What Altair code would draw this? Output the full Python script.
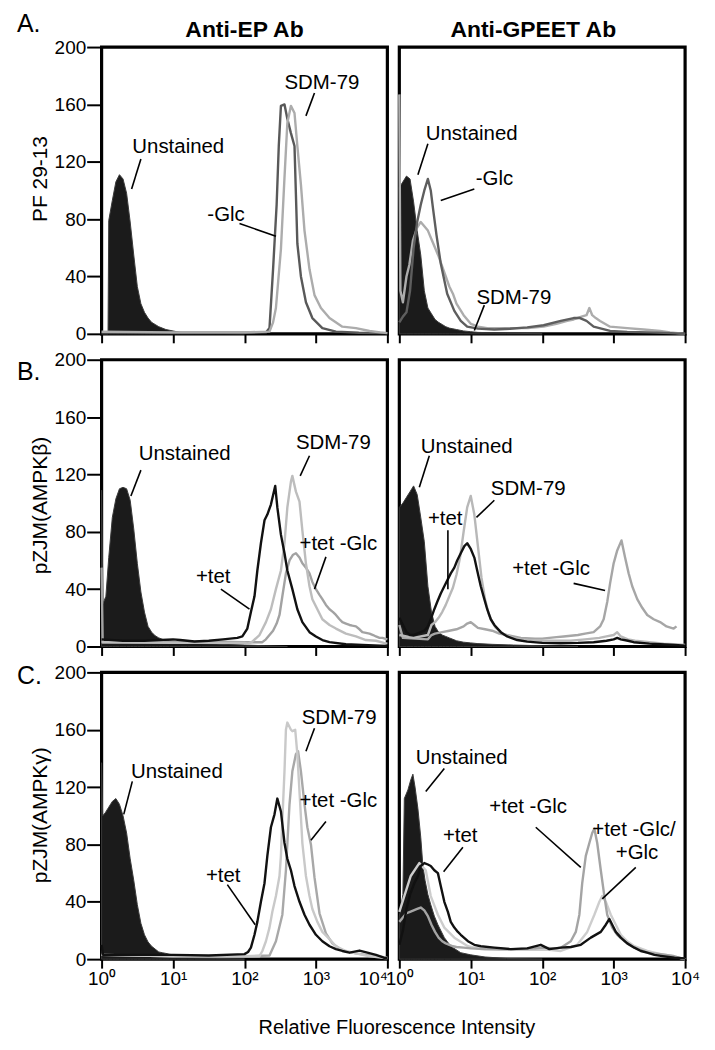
import altair as alt
import pandas as pd

FONT = "Liberation Sans"
PANEL_W = 287
PANEL_H = 288

X_TICKS = [1, 10, 100, 1000, 10000]
Y_TICKS = [0, 40, 80, 120, 160, 200]
COL_HEADERS = ["Anti-EP Ab", "Anti-GPEET Ab"]
ROW_LETTERS = ["A.", "B.", "C."]
ROW_TITLES = ["PF 29-13", "pZJM(AMPK\u03b2)", "pZJM(AMPK\u03b3)"]
X_TITLE = "Relative Fluorescence Intensity"

# Histogram readings: [log10(intensity), cell count]
# ---- Row A, Anti-EP
A_EP_UNST = [[0.0, 0], [0.09, 0], [0.10, 79], [0.15, 93], [0.20, 106], [0.25, 111], [0.30, 108], [0.35, 98],
             [0.40, 78], [0.45, 55], [0.50, 33], [0.55, 21], [0.60, 15], [0.65, 11], [0.70, 8], [0.75, 6.5],
             [0.80, 5], [0.85, 4], [0.90, 3], [0.95, 2.5], [1.00, 2], [1.05, 1.5], [1.10, 1], [1.30, 0.6],
             [1.6, 0.3], [2.0, 0]]
A_EP_GLC = [[0.0, 1], [0.5, 1], [1.0, 0.8], [2.0, 0.8], [2.30, 1], [2.35, 4], [2.40, 45], [2.45, 90],
            [2.48, 131], [2.51, 159], [2.56, 160], [2.60, 150], [2.65, 140], [2.70, 131], [2.72, 97],
            [2.74, 63], [2.79, 40], [2.86, 22], [2.95, 11], [3.09, 4], [3.28, 1.5], [3.6, 0.8], [4.0, 0.5]]
A_EP_SDM = [[0.0, 1.5], [1.0, 1], [2.0, 1], [2.35, 1.5], [2.40, 8], [2.44, 18], [2.51, 59], [2.56, 109],
            [2.60, 147], [2.65, 159], [2.70, 154], [2.74, 131], [2.79, 104], [2.84, 72], [2.91, 45],
            [2.98, 27], [3.07, 18], [3.19, 11], [3.37, 5], [3.56, 4], [3.75, 2], [3.9, 1], [4.0, 0.5]]
# ---- Row A, Anti-GPEET
A_GP_UNST = [[0.0, 102], [0.05, 106], [0.10, 110], [0.15, 108], [0.20, 92], [0.25, 72], [0.30, 55],
             [0.35, 30], [0.40, 18], [0.45, 14], [0.50, 10], [0.55, 8], [0.60, 6.5], [0.65, 5], [0.70, 4],
             [0.75, 3.5], [0.80, 3], [0.90, 2], [1.00, 1.5], [1.10, 1], [1.5, 0.5], [2.0, 0]]
A_GP_GLC = [[0.0, 8], [0.05, 12], [0.10, 15], [0.15, 30], [0.20, 60], [0.25, 78], [0.30, 90], [0.35, 100],
            [0.40, 108], [0.44, 100], [0.47, 88], [0.52, 69], [0.58, 49], [0.67, 28], [0.77, 16],
            [0.86, 9], [0.95, 5], [1.10, 3.6], [1.33, 3], [1.55, 3.5], [1.79, 4.5], [2.02, 6], [2.26, 9],
            [2.44, 11], [2.53, 11], [2.62, 9], [2.72, 5], [2.95, 2], [3.19, 1.4], [3.5, 1], [3.8, 0.5],
            [4.0, 0]]
A_GP_SDM = [[0.0, 167], [0.015, 30], [0.05, 22], [0.10, 40], [0.14, 48], [0.19, 65], [0.25, 74],
            [0.30, 78], [0.35, 75], [0.40, 72], [0.45, 66], [0.50, 60], [0.55, 54], [0.60, 47], [0.65, 40],
            [0.70, 33], [0.75, 28], [0.80, 21], [0.85, 17], [0.90, 13], [0.95, 10], [1.00, 7], [1.05, 6],
            [1.10, 5], [1.23, 4], [1.5, 4], [1.8, 4], [2.02, 5], [2.2, 7], [2.35, 9], [2.44, 10],
            [2.55, 12], [2.62, 13], [2.66, 18], [2.70, 13], [2.75, 11], [2.81, 9], [2.95, 5], [3.19, 4],
            [3.42, 3], [3.65, 2], [3.79, 1], [3.9, 0.5], [4.0, 0]]
# ---- Row B, Anti-EP
B_EP_UNST = [[0.0, 109], [0.02, 30], [0.06, 35], [0.10, 62], [0.15, 90], [0.20, 103], [0.25, 110],
             [0.30, 111], [0.35, 110], [0.40, 102], [0.45, 82], [0.50, 58], [0.55, 38], [0.60, 24],
             [0.65, 14], [0.70, 10], [0.75, 7.5], [0.80, 6], [0.85, 5], [0.90, 4.5], [0.95, 4], [1.00, 3.5],
             [1.1, 3], [1.2, 2.5], [1.4, 2], [1.7, 1.5], [2.0, 1], [2.3, 0.5], [2.6, 0]]
B_EP_TET = [[0.0, 5], [0.3, 4], [0.6, 4], [1.0, 5], [1.1, 4.5], [1.3, 3.5], [1.5, 4], [1.7, 5], [1.8, 5.5],
            [1.9, 6], [1.97, 7], [2.04, 12.5], [2.09, 24], [2.14, 35], [2.18, 53], [2.23, 72], [2.28, 88],
            [2.32, 92], [2.37, 99], [2.43, 112], [2.46, 97], [2.51, 78], [2.56, 65], [2.60, 53],
            [2.67, 40], [2.74, 26], [2.81, 17], [2.91, 10], [3.0, 7], [3.09, 4.5], [3.19, 3], [3.42, 1.6],
            [3.65, 1.1], [3.9, 0.5], [4.0, 0.3]]
B_EP_SDM = [[0.0, 3], [1.0, 2.5], [2.0, 2.5], [2.05, 2], [2.11, 3.4], [2.21, 8], [2.30, 17], [2.37, 26],
            [2.44, 40], [2.51, 53], [2.56, 72], [2.60, 97], [2.65, 115], [2.67, 119], [2.72, 108],
            [2.77, 101], [2.81, 81], [2.86, 58], [2.91, 42], [2.95, 33], [3.02, 26], [3.09, 19],
            [3.19, 15], [3.28, 12.5], [3.42, 9], [3.56, 7], [3.70, 4.5], [3.84, 4], [3.95, 2.5], [4.0, 2]]
B_EP_TETGLC = [[0.0, 55], [0.015, 3], [0.5, 3], [1.0, 3], [1.5, 3.5], [2.0, 3], [2.25, 3], [2.30, 5],
               [2.35, 8], [2.40, 11], [2.45, 16], [2.49, 22], [2.53, 35], [2.58, 51], [2.63, 60],
               [2.68, 64], [2.72, 65], [2.77, 62], [2.81, 58], [2.86, 55], [2.91, 51], [2.95, 45],
               [3.0, 40], [3.05, 36], [3.09, 33], [3.14, 29], [3.19, 26], [3.24, 24], [3.28, 22],
               [3.33, 19], [3.37, 17], [3.42, 16], [3.47, 15], [3.51, 14.5], [3.56, 14], [3.61, 12],
               [3.65, 10], [3.70, 9.5], [3.75, 9], [3.80, 8], [3.84, 7], [3.89, 6], [3.93, 6], [4.0, 5]]
# ---- Row B, Anti-GPEET
B_GP_UNST = [[0.0, 97], [0.05, 100], [0.10, 104], [0.15, 108], [0.20, 112], [0.25, 106], [0.30, 90],
             [0.35, 73], [0.40, 42], [0.45, 24], [0.50, 14], [0.55, 10], [0.60, 8], [0.65, 7], [0.70, 6],
             [0.75, 5], [0.80, 4], [0.85, 3.5], [0.90, 3], [1.0, 2.5], [1.1, 2], [1.3, 1.5], [1.6, 1],
             [2.0, 0.5], [2.5, 0]]
B_GP_TET = [[0.0, 20], [0.05, 15], [0.10, 10], [0.15, 8], [0.20, 8], [0.25, 9], [0.30, 10], [0.35, 11],
            [0.40, 14], [0.44, 19], [0.49, 26], [0.53, 31], [0.58, 37], [0.63, 42], [0.68, 47], [0.72, 51],
            [0.77, 55], [0.81, 60], [0.86, 65], [0.91, 70], [0.95, 72], [1.0, 68], [1.05, 62], [1.09, 53],
            [1.14, 42], [1.19, 33], [1.23, 26], [1.28, 19], [1.33, 15], [1.42, 10], [1.51, 7], [1.65, 4.5],
            [1.79, 3.4], [2.0, 2.5], [2.26, 2.3], [2.5, 2.5], [2.72, 3], [2.9, 4], [3.0, 5], [3.05, 6],
            [3.1, 5], [3.2, 4], [3.28, 3], [3.5, 2], [3.65, 1.6], [3.85, 1], [4.0, 0.5]]
B_GP_SDM = [[0.0, 8], [0.2, 6], [0.40, 8], [0.45, 15], [0.50, 17], [0.55, 20], [0.60, 24], [0.65, 29],
            [0.70, 35], [0.75, 41], [0.80, 50], [0.85, 62], [0.90, 80], [0.95, 97], [1.00, 105],
            [1.05, 92], [1.10, 70], [1.15, 48], [1.20, 33], [1.25, 23], [1.30, 17], [1.35, 13], [1.40, 11],
            [1.45, 9], [1.50, 8], [1.60, 6], [1.7, 5], [1.8, 4.5], [2.0, 4], [2.2, 4], [2.4, 4], [2.6, 5],
            [2.8, 6], [2.9, 7], [3.0, 8], [3.05, 10], [3.1, 7], [3.2, 5], [3.3, 4], [3.5, 3], [3.7, 2],
            [3.9, 1.5], [4.0, 1]]
B_GP_TETGLC = [[0.0, 15], [0.05, 6], [0.4, 5], [0.45, 8], [0.5, 9], [0.6, 10], [0.7, 11], [0.8, 12],
               [0.9, 14], [0.95, 16], [1.0, 17], [1.05, 15], [1.1, 13], [1.2, 12], [1.3, 11], [1.4, 9],
               [1.5, 8], [1.6, 7], [1.7, 6], [1.9, 5.5], [2.0, 5.5], [2.1, 6], [2.2, 6.5], [2.3, 7],
               [2.4, 7.5], [2.5, 8], [2.6, 9], [2.72, 10], [2.81, 14], [2.86, 19], [2.91, 31], [2.95, 44],
               [3.0, 58], [3.05, 67], [3.11, 74], [3.16, 62], [3.21, 51], [3.26, 42], [3.33, 33],
               [3.40, 27], [3.47, 22], [3.56, 19], [3.65, 17], [3.74, 14], [3.84, 12.5], [3.88, 14]]
# ---- Row C, Anti-EP
C_EP_UNST = [[0.0, 137], [0.015, 100], [0.05, 102], [0.10, 106], [0.15, 110], [0.20, 112], [0.25, 108],
             [0.30, 100], [0.35, 88], [0.40, 70], [0.45, 55], [0.50, 38], [0.55, 25], [0.60, 17],
             [0.65, 12], [0.70, 9], [0.75, 7], [0.80, 5], [0.85, 4.5], [0.90, 4], [0.95, 3.4], [1.00, 3],
             [1.05, 2.5], [1.10, 2], [1.2, 1.5], [1.3, 1], [1.6, 0.5], [2.0, 0]]
C_EP_TET = [[0.0, 10], [0.02, 3], [1.0, 3], [1.5, 2.5], [2.0, 3.5], [2.05, 5], [2.09, 8], [2.14, 17],
            [2.18, 26], [2.23, 40], [2.28, 53], [2.32, 72], [2.37, 92], [2.42, 101], [2.46, 112],
            [2.51, 103], [2.56, 81], [2.60, 70], [2.65, 62], [2.70, 51], [2.77, 40], [2.84, 31],
            [2.91, 24], [3.0, 17], [3.09, 12.5], [3.19, 9], [3.28, 7], [3.37, 5.7], [3.47, 4.5],
            [3.61, 6], [3.72, 4.5], [3.84, 3], [3.95, 1], [4.0, 0.5]]
C_EP_SDM = [[0.0, 3], [1.0, 2], [2.0, 2], [2.21, 2], [2.25, 5.7], [2.30, 12.5], [2.35, 22], [2.39, 33],
            [2.44, 44], [2.49, 58], [2.51, 72], [2.53, 97], [2.56, 131], [2.58, 160], [2.60, 165],
            [2.65, 160], [2.67, 159], [2.71, 160], [2.74, 143], [2.78, 108], [2.81, 81], [2.86, 58],
            [2.91, 44], [2.95, 35], [3.02, 26], [3.09, 19], [3.19, 14], [3.28, 9], [3.42, 5.7], [3.56, 4],
            [3.7, 2.5], [3.85, 1.5], [4.0, 0.5]]
C_EP_TETGLC = [[0.0, 3], [1.0, 2], [2.0, 2], [2.35, 2.5], [2.44, 12.5], [2.53, 31], [2.58, 62],
               [2.63, 108], [2.67, 131], [2.72, 143], [2.75, 145], [2.79, 131], [2.84, 108], [2.88, 92],
               [2.93, 80], [2.98, 57], [3.05, 32], [3.14, 18], [3.23, 11], [3.37, 6], [3.56, 4], [3.7, 3],
               [3.85, 2], [4.0, 1]]
# ---- Row C, Anti-GPEET
C_GP_UNST = [[0.0, 30], [0.05, 45], [0.07, 112], [0.12, 118], [0.16, 125], [0.19, 129], [0.22, 120],
             [0.26, 105], [0.30, 85], [0.33, 65], [0.36, 55], [0.40, 45], [0.44, 38], [0.49, 30],
             [0.54, 24], [0.63, 15], [0.72, 9], [0.86, 4.5], [1.0, 3], [1.2, 1.5], [1.5, 0.5], [2.0, 0]]
C_GP_TET = [[0.0, 10], [0.05, 20], [0.10, 35], [0.15, 45], [0.21, 53], [0.26, 58], [0.30, 65], [0.35, 67],
            [0.40, 66], [0.44, 65], [0.49, 62], [0.54, 60], [0.58, 51], [0.63, 40], [0.68, 33], [0.72, 26],
            [0.77, 22], [0.82, 19], [0.86, 17], [0.96, 12.5], [1.05, 10], [1.14, 9], [1.33, 8], [1.56, 7],
            [1.79, 7.5], [1.98, 10], [2.1, 7], [2.26, 8], [2.4, 8.5], [2.54, 10], [2.68, 15], [2.82, 19],
            [2.89, 24], [2.94, 28], [2.98, 24], [3.03, 19], [3.10, 15], [3.19, 11], [3.29, 8], [3.38, 5.7],
            [3.47, 4.5], [3.57, 3], [3.66, 2.3], [3.85, 1], [4.0, 0.5]]
C_GP_TETGLC = [[0.0, 26], [0.05, 29], [0.10, 32], [0.15, 33], [0.20, 34], [0.25, 35], [0.30, 36],
               [0.35, 34], [0.40, 30], [0.45, 24], [0.50, 19], [0.55, 15], [0.60, 12.5], [0.65, 11],
               [0.70, 10], [0.75, 9], [0.80, 8.5], [0.90, 8], [1.0, 7.5], [1.2, 7], [1.6, 7], [1.9, 7.5],
               [2.0, 8], [2.2, 7.5], [2.26, 8], [2.40, 12.5], [2.47, 19], [2.52, 31], [2.56, 53],
               [2.61, 72], [2.66, 81], [2.70, 88], [2.73, 91], [2.77, 81], [2.82, 62], [2.87, 44],
               [2.91, 31], [2.98, 22], [3.05, 17], [3.15, 12.5], [3.29, 8], [3.47, 4.5], [3.66, 3.4],
               [3.85, 2], [3.95, 0.5], [4.0, 0]]
C_GP_GLC = [[0.0, 33], [0.07, 44], [0.16, 58], [0.28, 67], [0.37, 62], [0.44, 44], [0.54, 31], [0.63, 22],
            [0.77, 15], [0.96, 9], [1.14, 7], [1.4, 6.5], [1.8, 6.5], [2.1, 6.5], [2.26, 5.7], [2.49, 10],
            [2.63, 19], [2.73, 31], [2.80, 40], [2.84, 44], [2.89, 40], [2.96, 31], [3.03, 24], [3.10, 17],
            [3.19, 12.5], [3.29, 9], [3.47, 5.7], [3.66, 3.4], [3.85, 2], [3.95, 0.5], [4.0, 0]]

# Annotation labels: (text, log10 x of left edge, count at baseline)
ANN_A_EP = [("SDM-79", 2.56, 171), ("Unstained", 0.43, 126), ("-Glc", 1.48, 79)]
ANN_A_GP = [("Unstained", 0.37, 135), ("-Glc", 1.07, 104), ("SDM-79", 1.08, 21)]
ANN_B_EP = [("Unstained", 0.52, 130), ("SDM-79", 2.72, 137.5), ("+tet -Glc", 2.77, 67), ("+tet", 1.32, 44)]
ANN_B_GP = [("Unstained", 0.30, 135), ("SDM-79", 1.28, 106), ("+tet", 0.40, 85), ("+tet -Glc", 1.58, 50)]
ANN_C_EP = [("SDM-79", 2.80, 164), ("Unstained", 0.41, 126), ("+tet -Glc", 2.77, 106), ("+tet", 1.46, 54)]
ANN_C_GP = [("Unstained", 0.23, 136), ("+tet", 0.61, 82), ("+tet -Glc", 1.26, 102),
            ("+tet -Glc/", 2.70, 86), ("+Glc", 3.03, 70)]
# Leader lines: (log10 x1, y1, log10 x2, y2)
LEAD_A_EP = [(2.98, 168, 2.86, 152), (0.55, 122, 0.42, 101), (1.93, 77, 2.44, 68)]
LEAD_A_GP = [(0.40, 132.5, 0.26, 111), (1.05, 101, 0.58, 93), (1.19, 20, 1.05, 2.3)]
LEAD_B_EP = [(2.91, 133, 2.78, 119), (3.14, 62.5, 2.98, 40), (1.67, 40, 2.07, 26), (0.55, 123, 0.41, 105)]
LEAD_B_GP = [(0.42, 133, 0.28, 111), (1.33, 102, 1.08, 90), (0.68, 81, 0.68, 40), (2.44, 44, 2.88, 39)]
LEAD_C_EP = [(2.98, 161, 2.86, 145), (0.43, 124, 0.31, 101), (3.14, 96, 2.93, 83), (1.76, 52, 2.15, 24)]
LEAD_C_GP = [(0.63, 133, 0.37, 117), (0.89, 78, 0.62, 61), (1.91, 92, 2.54, 64), (3.31, 64, 2.84, 42)]

PANELS = [
    dict(row=0, col=0, unst=A_EP_UNST, lines=[(A_EP_GLC, "#595959"), (A_EP_SDM, "#acacac")],
         ann=ANN_A_EP, lead=LEAD_A_EP),
    dict(row=0, col=1, unst=A_GP_UNST, lines=[(A_GP_SDM, "#acacac"), (A_GP_GLC, "#5e5e5e")],
         ann=ANN_A_GP, lead=LEAD_A_GP),
    dict(row=1, col=0, unst=B_EP_UNST,
         lines=[(B_EP_TETGLC, "#a2a2a2"), (B_EP_SDM, "#bdbdbd"), (B_EP_TET, "#111111")],
         ann=ANN_B_EP, lead=LEAD_B_EP),
    dict(row=1, col=1, unst=B_GP_UNST,
         lines=[(B_GP_TETGLC, "#a6a6a6"), (B_GP_SDM, "#b8b8b8"), (B_GP_TET, "#111111")],
         ann=ANN_B_GP, lead=LEAD_B_GP),
    dict(row=2, col=0, unst=C_EP_UNST,
         lines=[(C_EP_TETGLC, "#a8a8a8"), (C_EP_SDM, "#c9c9c9"), (C_EP_TET, "#111111")],
         ann=ANN_C_EP, lead=LEAD_C_EP),
    dict(row=2, col=1, unst=C_GP_UNST,
         lines=[(C_GP_GLC, "#cdcdcd"), (C_GP_TETGLC, "#a4a4a4"), (C_GP_TET, "#111111")],
         ann=ANN_C_GP, lead=LEAD_C_GP),
]

LETTER_Y = [-15, 20, 12]
YTITLE_Y = [132, 146, 143]

LABEL_EXPR = ("datum.value == 1 ? '10\u2070' : datum.value == 10 ? '10\u00b9' : "
              "datum.value == 100 ? '10\u00b2' : datum.value == 1000 ? '10\u00b3' : '10\u2074'")


def curve_df(points):
    return pd.DataFrame({"x": [10 ** p[0] for p in points], "y": [p[1] for p in points]})


def make_panel(p):
    row, col = p["row"], p["col"]
    left = col == 0
    bottom = row == 2

    if left:
        label_align = {"condition": {"test": "datum.value == 10000", "value": "right"}, "value": "center"}
    else:
        label_align = "center"
    xaxis_kw = dict(values=X_TICKS, tickSize=9, tickWidth=2, tickColor="black", domain=False, grid=False,
                    labels=bottom, labelExpr=LABEL_EXPR, labelFont=FONT, labelFontSize=19,
                    labelColor="black", labelPadding=1, labelFlush=False, labelOverlap=False,
                    labelAlign=label_align)
    if bottom and left:
        xaxis_kw.update(title=X_TITLE, titleX=296, titleY=75, titleAlign="center",
                        titleBaseline="alphabetic", titleFont=FONT, titleFontSize=20,
                        titleFontWeight="normal", titleColor="black")
    else:
        xaxis_kw.update(title=None)
    xaxis = alt.Axis(**xaxis_kw)
    xs = alt.Scale(type="log", domain=[1, 10000])
    ys = alt.Scale(domain=[0, 200], nice=False)
    if left:
        yaxis = alt.Axis(values=Y_TICKS, tickSize=15, tickWidth=2, tickColor="black", domain=False,
                         grid=False, labelFont=FONT, labelFontSize=19, labelColor="black", labelPadding=1,
                         title=ROW_TITLES[row], titleX=-61, titleY=YTITLE_Y[row], titleAngle=-90,
                         titleAlign="center", titleBaseline="middle", titleFont=FONT, titleFontSize=21,
                         titleFontWeight="normal", titleColor="black")
    else:
        yaxis = None

    X = alt.X("x:Q", scale=xs, axis=xaxis)
    Y = alt.Y("y:Q", scale=ys, axis=yaxis)

    layers = [
        alt.Chart(curve_df(p["unst"])).mark_area(color="#1b1b1b", stroke="#3a3a3a", strokeWidth=1)
        .encode(x=X, y=Y)
    ]
    for pts, color in p["lines"]:
        layers.append(
            alt.Chart(curve_df(pts)).mark_line(color=color, strokeWidth=2.4, strokeJoin="round")
            .encode(x=X, y=Y)
        )
    lead = pd.DataFrame({
        "x": [10 ** a[0] for a in p["lead"]], "y": [a[1] for a in p["lead"]],
        "x2": [10 ** a[2] for a in p["lead"]], "y2": [a[3] for a in p["lead"]],
    })
    layers.append(
        alt.Chart(lead).mark_rule(color="black", strokeWidth=1.6)
        .encode(x=X, y=Y, x2="x2:Q", y2="y2:Q")
    )
    ann = pd.DataFrame({
        "label": [a[0] for a in p["ann"]], "x": [10 ** a[1] for a in p["ann"]], "y": [a[2] for a in p["ann"]],
    })
    layers.append(
        alt.Chart(ann).mark_text(align="left", baseline="alphabetic", font=FONT, fontSize=20.5, color="black")
        .encode(x=X, y=Y, text="label:N")
    )
    if left:
        layers.append(
            alt.Chart(pd.DataFrame({"t": [ROW_LETTERS[row]]}))
            .mark_text(align="left", baseline="alphabetic", font=FONT, fontSize=25, color="black")
            .encode(x=alt.value(-85), y=alt.value(LETTER_Y[row]), text="t:N")
        )
    if row == 0:
        layers.append(
            alt.Chart(pd.DataFrame({"t": [COL_HEADERS[col]]}))
            .mark_text(align="center", baseline="alphabetic", font=FONT, fontSize=23, fontWeight="bold",
                       color="black")
            .encode(x=alt.value(PANEL_W / 2 - (0 if left else 9)), y=alt.value(-10), text="t:N")
        )
    return alt.layer(*layers).properties(width=PANEL_W, height=PANEL_H)


chart = (
    alt.concat(*[make_panel(p) for p in PANELS], columns=2, spacing={"row": 26, "column": 12}, bounds="flush")
    .configure_view(stroke="black", strokeWidth=3.2)
    .properties(padding={"left": 7, "top": 0, "right": 5, "bottom": 5}, background="white")
)

chart.save("out.html", embed_options={"renderer": "svg", "actions": False})
